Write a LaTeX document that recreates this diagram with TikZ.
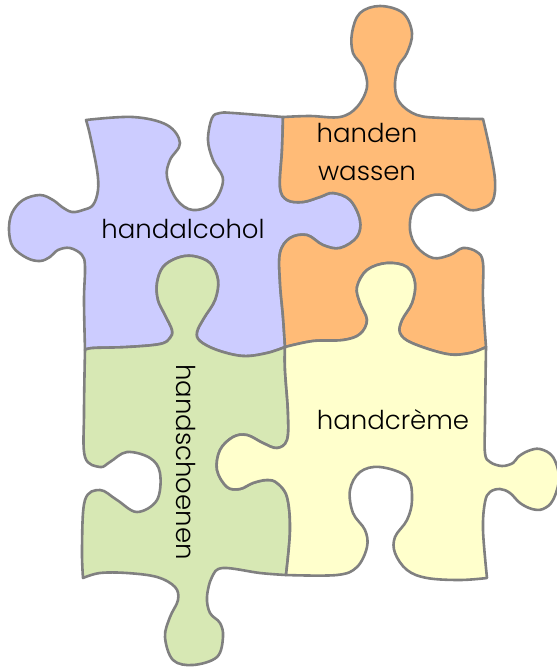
\documentclass[tikz,border=0pt]{standalone}
\usepackage{fontspec}
\setmainfont{Poppins Light}
\definecolor{alcohol}{RGB}{204,204,255}
\definecolor{wassen}{RGB}{255,187,119}
\definecolor{schoen}{RGB}{215,232,180}
\definecolor{creme}{RGB}{255,255,204}
\begin{document}
\begin{tikzpicture}[x=1pt,y=-1pt,
  piece/.style={draw=black!50,line width=2.6pt,line join=round},
  curvy/.style={smooth,tension=0.6},
  word/.style={font=\fontsize{26}{38}\selectfont,align=center,inner sep=0pt}]
\useasboundingbox (0,0) rectangle (557,667);
% blue piece
\filldraw[piece,fill=alcohol] (86,120)
 -- plot[curvy] coordinates {(86,120) (133,117) (167,125) (180,143) (170,160) (167,177) (177,200) (193,210) (213,203) (223,180) (213,160) (208,140) (212,118) (220,113) (233,113) (283,117)}
 -- plot[curvy] coordinates {(283,117) (282,150) (280,187) (287,200) (303,202) (320,197) (333,193) (350,200) (360,220) (357,237) (340,248) (323,245) (307,235) (290,238) (280,253) (280,283) (283,317) (285,347)}
 -- plot[curvy] coordinates {(285,347) (267,353) (243,356) (217,350) (200,341) (197,332) (204,318) (215,300) (218,280) (210,263) (193,256) (177,258) (163,267) (157,283) (158,300) (165,315) (172,330) (170,338) (160,344) (127,347) (93,348) (85,350)}
 -- plot[curvy] coordinates {(85,350) (84,300) (85,267) (82,255) (70,248) (58,250) (50,257) (40,261) (27,258) (13,247) (9,230) (12,213) (23,200) (40,195) (53,200) (62,207) (72,212) (83,210) (93,205) (98,190) (97,170) (90,135) (86,120)}
 -- cycle;
% orange piece
\filldraw[piece,fill=wassen] (283,117)
 -- plot[curvy] coordinates {(283,117) (310,116) (340,117) (357,107) (367,87) (363,67) (353,53) (352,33) (360,13) (380,6) (403,13) (412,33) (407,53) (398,67) (395,87) (400,103) (417,115) (443,118) (483,119)}
 -- plot[curvy] coordinates {(483,119) (490,150) (495,180) (493,200) (483,208) (470,210) (457,203) (443,195) (427,197) (413,210) (410,230) (417,247) (433,258) (450,255) (463,248) (477,252) (483,263) (483,300) (486,347)}
 -- plot[curvy] coordinates {(486,347) (470,353) (447,354) (412,343) (400,333) (402,320) (412,303) (415,283) (407,267) (387,263) (367,270) (357,287) (360,303) (367,320) (360,334) (343,340) (313,341) (285,347)}
 -- plot[curvy] coordinates {(285,347) (283,317) (280,283) (280,253) (290,238) (307,235) (323,245) (340,248) (357,237) (360,220) (350,200) (333,193) (320,197) (303,202) (287,200) (280,187) (282,150) (283,117)}
 -- cycle;
% green piece
\filldraw[piece,fill=schoen] (85,350)
 -- plot[curvy] coordinates {(85,350) (93,348) (127,347) (160,344) (170,338) (172,330) (165,315) (158,300) (157,283) (163,267) (177,258) (193,256) (210,263) (218,280) (215,300) (204,318) (197,332) (200,341) (217,350) (243,356) (267,353) (285,347)}
 -- plot[curvy] coordinates {(285,347) (285,370) (288,413) (287,440) (277,448) (263,443) (247,435) (233,437) (220,450) (217,470) (227,487) (240,489) (253,483) (267,480) (277,483) (287,497) (290,530) (286,575)}
 -- plot[curvy] coordinates {(286,575) (260,573) (223,568) (212,577) (207,597) (210,613) (220,623) (223,637) (217,657) (193,665) (173,660) (165,637) (170,617) (178,600) (175,587) (157,577) (127,573) (100,573) (83,578)}
 -- plot[curvy] coordinates {(83,578) (82,547) (85,500) (100,490) (117,500) (137,512) (157,500) (160,473) (150,458) (127,452) (110,462) (100,467) (85,457) (84,413) (85,350)}
 -- cycle;
% yellow piece
\filldraw[piece,fill=creme] (285,347)
 -- plot[curvy] coordinates {(285,347) (313,341) (343,340) (360,334) (367,320) (360,303) (357,287) (367,270) (387,263) (407,267) (415,283) (412,303) (402,320) (400,333) (412,343) (447,354) (470,353) (486,347)}
 -- plot[curvy] coordinates {(486,347) (485,420) (485,453) (490,462) (502,466) (513,463) (518,457) (528,451) (540,449) (553,457) (559,478) (553,500) (543,509) (532,509) (520,503) (510,493) (500,489) (490,492) (485,502) (483,530) (487,578)}
 -- plot[curvy] coordinates {(487,578) (460,580) (427,578) (407,570) (395,553) (395,537) (407,520) (412,500) (407,477) (380,467) (360,472) (350,490) (353,513) (365,530) (367,547) (357,567) (337,575) (286,575)}
 -- plot[curvy] coordinates {(286,575) (290,530) (287,497) (277,483) (267,480) (253,483) (240,489) (227,487) (217,470) (220,450) (233,437) (247,435) (263,443) (277,448) (287,440) (288,413) (285,370) (285,347)}
 -- cycle;
\node[word] (alcohol) at (183,229) {handalcohol};
\node[word] (wassen) at (367,152) {handen\\wassen};
\node[word] (creme) at (393,420) {handcrème};
\node[word,rotate=-90] (schoen) at (186,462) {handschoenen};
\end{tikzpicture}
\end{document}
